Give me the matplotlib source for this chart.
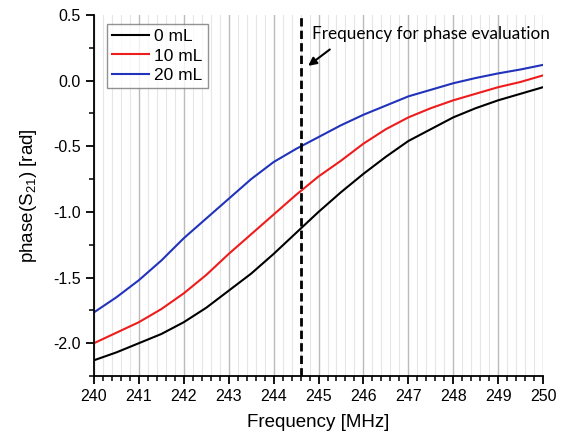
import matplotlib.pyplot as plt
from matplotlib.ticker import MultipleLocator

plt.rcParams['font.family'] = ['Liberation Sans', 'DejaVu Sans']
plt.rcParams['mathtext.fontset'] = 'custom'
plt.rcParams['mathtext.rm'] = 'Liberation Sans'

# frequency points [MHz]
freq = [240, 240.5, 241, 241.5, 242, 242.5, 243, 243.5, 244, 244.5, 245,
        245.5, 246, 246.5, 247, 247.5, 248, 248.5, 249, 249.5, 250]

# phase(S21) [rad]
phase_0ml = [-2.13, -2.07, -2.00, -1.93, -1.84, -1.73, -1.60, -1.47, -1.32, -1.16, -1.00,
             -0.85, -0.71, -0.58, -0.46, -0.37, -0.28, -0.21, -0.15, -0.10, -0.05]
phase_10ml = [-2.00, -1.92, -1.84, -1.74, -1.62, -1.48, -1.32, -1.17, -1.02, -0.87, -0.73,
              -0.61, -0.48, -0.37, -0.28, -0.21, -0.15, -0.10, -0.05, -0.01, 0.04]
phase_20ml = [-1.765, -1.65, -1.52, -1.37, -1.20, -1.05, -0.90, -0.75, -0.62, -0.52, -0.43,
              -0.34, -0.26, -0.19, -0.12, -0.07, -0.02, 0.02, 0.055, 0.085, 0.12]

labels = ['0 mL', '10 mL', '20 mL']
colors = ['black', '#ee1c1c', '#2233bb']
f_eval = 244.6

fig = plt.figure(figsize=(5.61, 4.37), dpi=100)
ax = fig.add_axes([0.1676, 0.1396, 0.8004, 0.8261])

ax.xaxis.set_minor_locator(MultipleLocator(0.2))
ax.yaxis.set_minor_locator(MultipleLocator(0.25))
ax.xaxis.set_major_locator(MultipleLocator(1))
ax.yaxis.set_major_locator(MultipleLocator(0.5))
ax.grid(True, which='major', axis='x', color='#bbbbbb', lw=1.0)
ax.grid(True, which='minor', axis='x', color='#e6e6e6', lw=0.8)
ax.set_axisbelow(True)

for y, lab, c in zip([phase_0ml, phase_10ml, phase_20ml], labels, colors):
    ax.plot(freq, y, color=c, lw=1.5, label=lab)

ax.axvline(f_eval, color='black', ls=(0, (3, 1.5)), lw=2)

ax.annotate('', xy=(244.72, 0.10), xytext=(245.3, 0.25),
            arrowprops=dict(arrowstyle='-|>', color='black', lw=1.5, mutation_scale=12))
ax.text(244.86, 0.355, 'Frequency for phase evaluation', family=['Lato', 'DejaVu Sans'],
        fontsize=12.3, va='center', ha='left')

ax.set_xlim(240, 250)
ax.set_ylim(-2.25, 0.5)
ax.spines['top'].set_visible(False)
ax.spines['right'].set_visible(False)
ax.spines['left'].set_linewidth(1.3)
ax.spines['bottom'].set_linewidth(1.3)
ax.tick_params(which='major', length=6, width=1.3, labelsize=11.5)
ax.tick_params(which='minor', length=3.5, width=1.1)
ax.set_yticks([0.5, 0.0, -0.5, -1.0, -1.5, -2.0])
ax.set_yticklabels(['0.5', '0.0', '-0.5', '-1.0', '-1.5', '-2.0'])

ax.set_xlabel('Frequency [MHz]', fontsize=13.5, labelpad=7)
ax.set_ylabel('phase(S$_{21}$) [rad]', fontsize=13.5, labelpad=10)

leg = ax.legend(loc='upper left', fontsize=12.5, handlelength=2.1, handletextpad=0.3,
                borderpad=0.3, labelspacing=0.25, fancybox=False, bbox_to_anchor=(0.01, 1.0))
leg.get_frame().set_edgecolor('#777777')
leg.get_frame().set_linewidth(1.0)

fig.savefig('out.png', dpi=100)
